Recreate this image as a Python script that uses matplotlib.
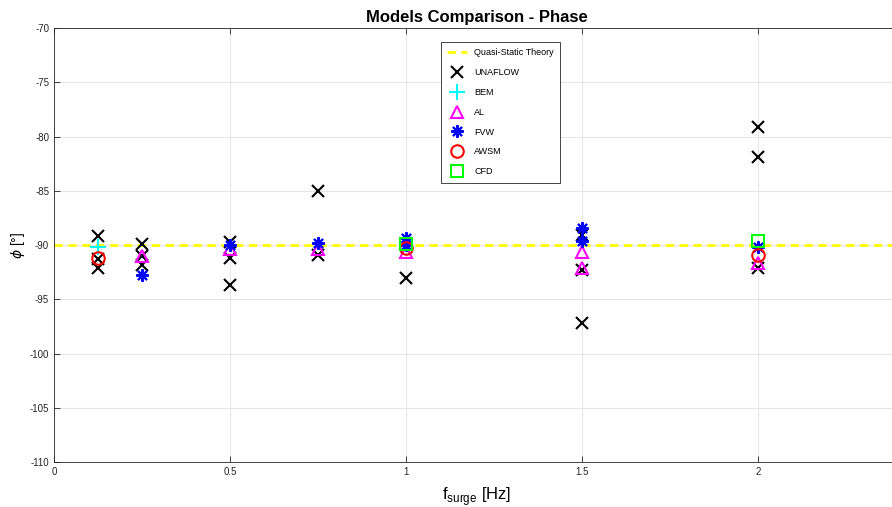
import matplotlib
matplotlib.use("Agg")
import matplotlib.pyplot as plt

plt.rcParams['font.family'] = ['Liberation Sans', 'DejaVu Sans']
plt.rcParams['mathtext.fontset'] = 'dejavusans'
plt.rcParams['axes.unicode_minus'] = False

# Data
quasi_static = -90.0
unaflow_f = [0.125, 0.125, 0.125, 0.25, 0.25, 0.25, 0.5, 0.5, 0.5, 0.75, 0.75, 1.0, 1.5, 1.5, 1.5, 2.0, 2.0, 2.0]
unaflow_phi = [-89.2, -91.3, -92.1, -89.9, -91.0, -91.8, -89.7, -91.2, -93.7, -85.0, -90.9, -93.0, -89.1, -92.3, -97.2, -79.1, -81.9, -92.1]
bem_f = [0.125]
bem_phi = [-90.2]
al_f = [0.25, 0.5, 0.75, 1.0, 1.5, 1.5, 2.0]
al_phi = [-91.0, -90.4, -90.4, -90.6, -90.6, -92.1, -91.7]
fvw_f = [0.25, 0.5, 0.75, 1.0, 1.0, 1.5, 1.5, 2.0]
fvw_phi = [-92.8, -90.0, -89.8, -89.4, -90.0, -88.4, -89.6, -90.2]
awsm_f = [0.125, 1.0, 2.0]
awsm_phi = [-91.2, -90.3, -90.9]
cfd_f = [1.0, 2.0]
cfd_phi = [-89.9, -89.6]

xticks = [0, 0.5, 1, 1.5, 2]
xticklabels = ['0', '0.5', '1', '1.5', '2']
yticks = [-110, -105, -100, -95, -90, -85, -80, -75, -70]
xmax = 2.4

fig = plt.figure(figsize=(8.92, 5.07), dpi=100)
ax = fig.add_axes([54/892, 1-462/507, xmax*352/892, (462-28)/507])

ax.axhline(quasi_static, color='#FFFF00', ls=(0, (3, 2)), lw=2, label='Quasi-Static Theory', zorder=2)
ms = 9
ax.plot(unaflow_f, unaflow_phi, ls='none', marker='x', color='k', ms=ms, mew=1.5, label='UNAFLOW', zorder=3)
ax.plot(bem_f, bem_phi, ls='none', marker='+', color='#00FFFF', ms=ms+2, mew=1.5, label='BEM', zorder=3)
ax.plot(al_f, al_phi, ls='none', marker='^', color='#FF00FF', mfc='none', ms=ms, mew=1.5, label='AL', zorder=3)
ax.plot(fvw_f, fvw_phi, ls='none', marker=(8, 2, 0), color='#0000FF', ms=ms, mew=1.5, label='FVW', zorder=3)
ax.plot(awsm_f, awsm_phi, ls='none', marker='o', color='#FF0000', mfc='none', ms=ms, mew=1.5, label='AWSM', zorder=3)
ax.plot(cfd_f, cfd_phi, ls='none', marker='s', color='#00FF00', mfc='none', ms=ms-1, mew=1.5, label='CFD', zorder=3)

ax.set_xlim(0, xmax)
ax.set_ylim(-110, -70)
ax.set_xticks(xticks)
ax.set_xticklabels(xticklabels)
ax.set_yticks(yticks)
ax.grid(True, color='#e6e6e6', lw=0.8)
ax.set_axisbelow(True)
ax.tick_params(direction='in', top=True, right=True, labelsize=7, colors='#262626', length=4, width=0.6)
for s in ax.spines.values():
    s.set_color('#262626')
    s.set_linewidth(0.6)

ax.set_title('Models Comparison - Phase', fontsize=12, fontweight='bold', pad=4)
ax.set_xlabel(r'f$_{\mathregular{surge}}$ [Hz]', fontsize=12, labelpad=6)
ax.set_ylabel(r'$\phi$ [°]', fontsize=10, labelpad=2)

leg = ax.legend(loc='upper left', bbox_to_anchor=(441/892, 1-42/507), bbox_transform=fig.transFigure,
                fontsize=6.5, labelspacing=1.2, handlelength=2.2, handletextpad=0.8, borderpad=0.7,
                borderaxespad=0, fancybox=False, edgecolor='#262626', framealpha=1)
leg.get_frame().set_linewidth(0.6)

fig.savefig('out.png', dpi=100)
